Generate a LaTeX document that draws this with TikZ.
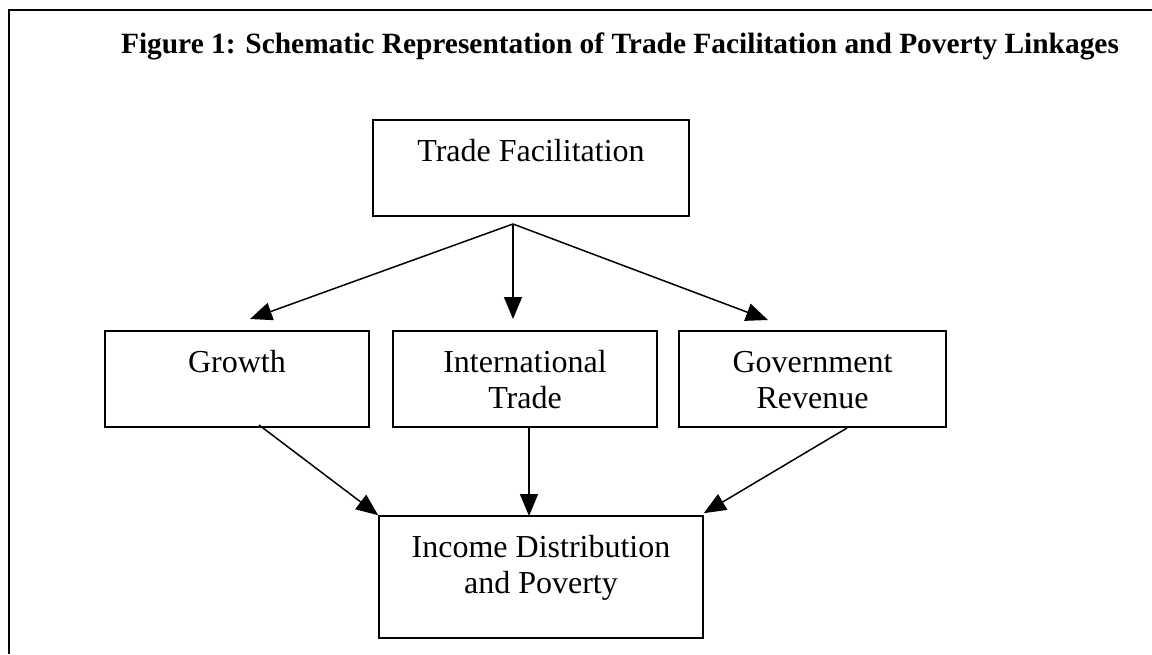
\documentclass[tikz,border=0pt]{standalone}
\usepackage{fontspec}
\setmainfont{Liberation Serif}
\usetikzlibrary{arrows.meta}
\begin{document}
\begin{tikzpicture}[x=1pt,y=-1pt,
  box/.style={draw,line width=1.6pt,minimum width=#1,minimum height=96pt,inner sep=0pt},
  lbl/.style={anchor=base,font=\fontsize{32}{36}\selectfont,align=center,inner sep=0pt},
  conn/.style={line width=1.5pt,-{Triangle[length=22pt,width=18pt]}}]
\useasboundingbox (0,0) rectangle (1152,654);
% frame
\coordinate (fbl) at (9,654);
\coordinate (ftl) at (9,10);
\coordinate (ftr) at (1152,10);
\draw[line width=2.2pt] (fbl) -- (ftl) -- (ftr);
% title
\node[anchor=base,inner sep=0pt,font=\fontsize{29.4}{34}\selectfont\bfseries] (title) at (620,53)
  {Figure 1: Schematic Representation of Trade Facilitation and Poverty Linkages};
% boxes
\node[box=316pt] (tf) at (531,168) {};
\node[lbl] (tft) at (531,161) {Trade Facilitation};
\node[box=264pt] (gr) at (237,379) {};
\node[lbl] (grt) at (237,372) {Growth};
\node[box=264pt] (it) at (525,379) {};
\node[lbl] (itt) at (525,372) {International};
\node[lbl] (itt2) at (525,408) {Trade};
\node[box=267pt] (gv) at (812.5,379) {};
\node[lbl] (gvt) at (812.5,372) {Government};
\node[lbl] (gvt2) at (812.5,408) {Revenue};
\node[box=324pt,minimum height=122pt] (id) at (541,577) {};
\node[lbl] (idt) at (541,557) {Income Distribution};
\node[lbl] (idt2) at (541,593) {and Poverty};
% connector points
\coordinate (split) at (513,224);
\coordinate (t1) at (250,319);
\coordinate (t2) at (513,319);
\coordinate (t3) at (768,320);
\coordinate (s1) at (259,425);
\coordinate (s2) at (529,427);
\coordinate (s3) at (847,428);
\coordinate (e2) at (529,516);
% connectors
\draw[conn] (split) -- (t1);
\draw[conn] (split) -- (t2);
\draw[conn] (split) -- (t3);
\draw[conn] (s1) -- (id.north west);
\draw[conn] (s2) -- (e2);
\draw[conn] (s3) -- ([yshift=2pt]id.north east);
\end{tikzpicture}
\end{document}
